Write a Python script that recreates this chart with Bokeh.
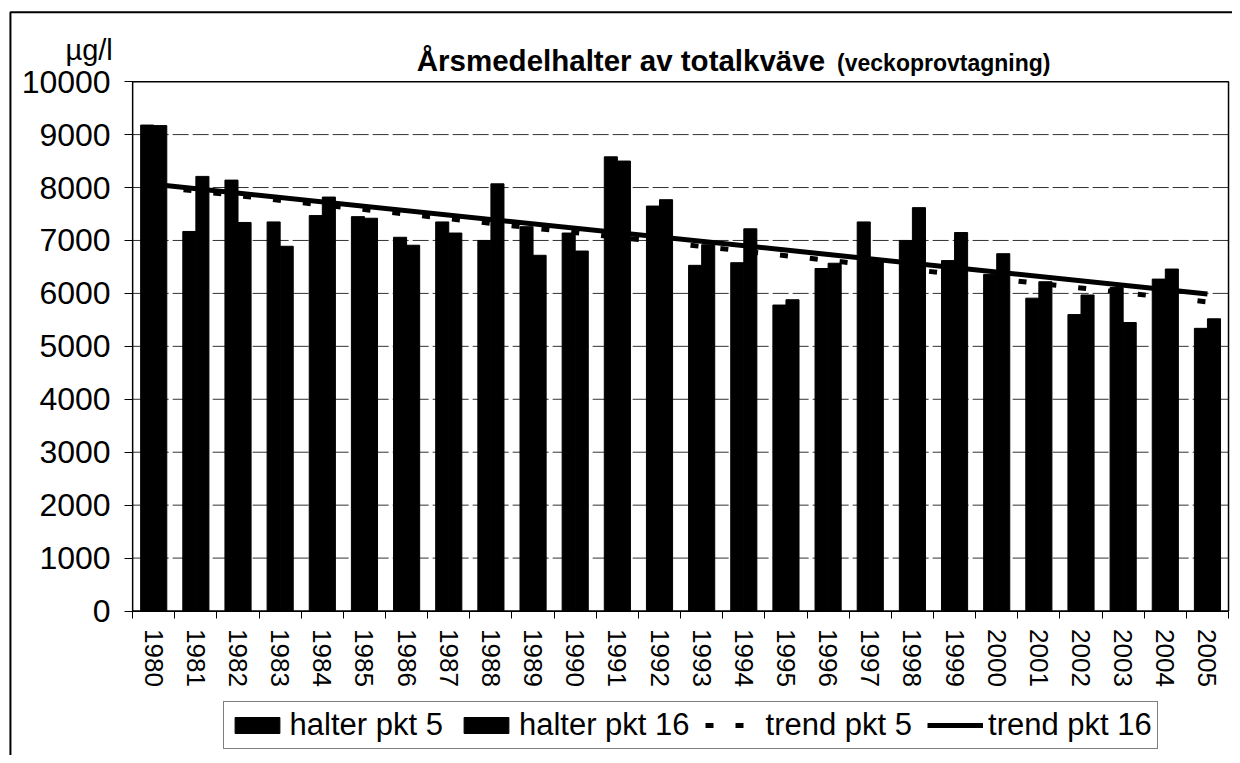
import math
from bokeh.plotting import figure
from bokeh.models import (ColumnDataSource, Range1d, FixedTicker, Legend, LegendItem, Label)
from bokeh.transform import dodge
from bokeh.embed import file_html
from bokeh.resources import INLINE

years = list(range(1980, 2006))
halter_pkt5 = [9180, 7170, 8140, 7350, 7470, 7450, 7060, 7350, 7000, 7260, 7140,
               8580, 7650, 6530, 6580, 5780, 6470, 7350, 7000, 6620, 6360,
               5910, 5600, 6110, 6270, 5340]
halter_pkt16 = [9170, 8210, 7340, 6890, 7820, 7420, 6910, 7140, 8070, 6720, 6800,
                8500, 7770, 6920, 7220, 5880, 6570, 6650, 7620, 7150, 6750,
                6220, 5970, 5450, 6460, 5520]
trend_years = [1980, 2005]
trend_pkt5 = [8020, 5840]
trend_pkt16 = [8060, 5990]
y_ticks = list(range(0, 10001, 1000))

FONT = "Liberation Sans"

# ---- layout helpers (reference picture is 1240 x 763 px) ----
W, H = 1232, 755
X_LO, X_HI = years[0] - 0.5, years[-1] + 0.5
Y_LO, Y_HI = y_ticks[0], y_ticks[-1]
PX_L, PX_R, PX_T, PX_B = 133, 1236, 82, 617   # plot area in reference px


def xr(px):
    return X_LO + (px - PX_L) * (X_HI - X_LO) / (PX_R - PX_L)


def yr(py):
    return Y_LO + (PX_B - py) * (Y_HI - Y_LO) / (PX_B - PX_T)


src = ColumnDataSource(dict(year=years, p5=halter_pkt5, p16=halter_pkt16))

p = figure(width=W, height=H, output_backend="svg", toolbar_location=None,
           x_range=Range1d(xr(0), xr(1240)), y_range=Range1d(yr(763), yr(0)),
           min_border=0, min_border_left=0, min_border_right=0,
           min_border_top=0, min_border_bottom=0)
p.title.visible = False
p.background_fill_color = "white"
p.border_fill_color = "white"
p.outline_line_color = None
p.xgrid.visible = False
p.ygrid.visible = False

# outer border (left and top edges of the original picture frame)
p.line([xr(10), xr(10), xr(1240)], [yr(763), yr(12), yr(12)],
       line_color="black", line_width=2)

# horizontal grid lines
p.segment(x0=X_LO, x1=X_HI, y0=y_ticks[1:-1], y1=y_ticks[1:-1],
          line_color="#333333", line_width=1, line_dash="16 4")

bw = 0.31
r5 = p.vbar(x=dodge("year", -bw / 2), top="p5", width=bw, source=src,
            fill_color="black", line_color="black")
r16 = p.vbar(x=dodge("year", bw / 2), top="p16", width=bw, source=src,
             fill_color="black", line_color="black")
l5 = p.line(trend_years, trend_pkt5, line_color="black", line_width=5, line_dash="8 22")
l16 = p.line(trend_years, trend_pkt16, line_color="black", line_width=5)

# plot-area box
p.quad(left=X_LO, right=X_HI, bottom=Y_LO, top=Y_HI, fill_color=None,
       line_color="black", line_width=1.5)

# axes
xa = p.xaxis[0]
xa.fixed_location = Y_LO
xa.bounds = (X_LO, X_HI)
xa.ticker = FixedTicker(ticks=years, minor_ticks=[y - 0.5 for y in years] + [X_HI])
xa.major_tick_out = 0
xa.major_tick_in = 0
xa.minor_tick_out = 7
xa.minor_tick_in = 0
xa.minor_tick_line_color = "black"
xa.major_label_orientation = -math.pi / 2
xa.major_label_text_font = FONT
xa.major_label_text_font_size = "26px"
xa.major_label_text_color = "black"
xa.major_label_standoff = 11
xa.axis_line_color = "black"

ya = p.yaxis[0]
ya.fixed_location = X_LO
ya.bounds = (Y_LO, Y_HI)
ya.ticker = FixedTicker(ticks=y_ticks)
ya.major_tick_out = 8
ya.major_tick_in = 0
ya.minor_tick_line_color = None
ya.major_label_text_font = FONT
ya.major_label_text_font_size = "32px"
ya.major_label_text_color = "black"
ya.major_label_standoff = 14
ya.axis_line_color = "black"

# titles
p.add_layout(Label(x=xr(113), y=yr(50), text="µg/l", text_align="right",
                   text_baseline="alphabetic", text_font=FONT,
                   text_font_size="29px", text_color="black"))
p.add_layout(Label(x=xr(419), y=yr(61), text="Årsmedelhalter av totalkväve",
                   text_align="left", text_baseline="alphabetic", text_font=FONT,
                   text_font_size="29.5px", text_font_style="bold", text_color="black"))
p.add_layout(Label(x=xr(842), y=yr(63), text="(veckoprovtagning)",
                   text_align="left", text_baseline="alphabetic", text_font=FONT,
                   text_font_size="23px", text_font_style="bold", text_color="black"))

legend = Legend(items=[LegendItem(label="halter pkt 5", renderers=[r5]),
                       LegendItem(label="halter pkt 16", renderers=[r16]),
                       LegendItem(label="trend pkt 5", renderers=[l5]),
                       LegendItem(label="trend pkt 16", renderers=[l16])],
                orientation="horizontal", location=(224 * W / 1240, H - 757 * H / 763),
                glyph_width=56, glyph_height=20, label_standoff=5, spacing=15,
                padding=5, margin=0,
                label_text_font=FONT, label_text_font_size="31px",
                label_text_color="black",
                border_line_color="black", border_line_width=1,
                background_fill_color="white", background_fill_alpha=1)
p.add_layout(legend, "center")

open("out.html", "w").write(file_html(p, INLINE))
